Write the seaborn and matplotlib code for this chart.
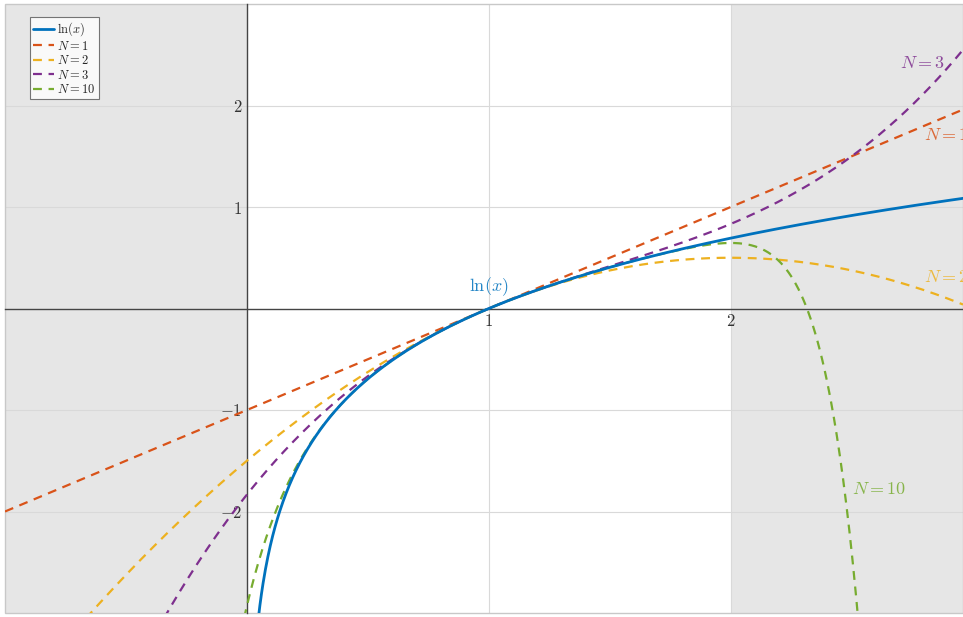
import numpy as np
import pandas as pd
import matplotlib
matplotlib.use("Agg")
import matplotlib.pyplot as plt
import seaborn as sns

# Taylor polynomials of ln(x) around x = 1
orders = [1, 2, 3, 10]
series_labels = ["$N = 1$", "$N = 2$", "$N = 3$", "$N = 10$"]
series_colors = ["#D95319", "#EDB120", "#7E2F8E", "#77AC30"]
ln_color = "#0072BD"
x_range = [-1.0, 2.96]
y_range = [-3.0, 3.0]
xtick_vals = [1, 2]
ytick_vals = [-2, -1, 1, 2]
# annotation text positions
annot_x = [2.80, 2.80, 2.70, 2.50]
annot_y = [1.71, 0.31, 2.42, -1.78]


def taylor_ln(x, n):
    k = np.arange(1, n + 1)
    return np.sum(((-1.0) ** (k + 1))[:, None] * (x[None, :] - 1) ** k[:, None] / k[:, None], axis=0)


sns.set_style("white")
plt.rcParams["font.family"] = ["DejaVu Serif"]
plt.rcParams["mathtext.fontset"] = "cm"

fig = plt.figure(figsize=(9.63, 6.17), dpi=100)
ax = fig.add_axes([5 / 963, 4 / 617, 958 / 963, 609 / 617])

# shaded regions outside the convergence interval
ax.axvspan(x_range[0], 0, color="#e6e6e6", zorder=0, lw=0)
ax.axvspan(2, x_range[1], color="#e6e6e6", zorder=0, lw=0)

xs = np.linspace(x_range[0], x_range[1], 1200)
xpos = xs[xs > 0.04]
df_ln = pd.DataFrame({"x": xpos, "y": np.log(xpos)})
sns.lineplot(data=df_ln, x="x", y="y", ax=ax, color=ln_color, lw=2,
             label=r"$\ln(x)$", zorder=5)

for n, lab, col in zip(orders, series_labels, series_colors):
    df = pd.DataFrame({"x": xs, "y": taylor_ln(xs, n)})
    df = df[(df.y > -4) & (df.y < 4)]
    sns.lineplot(data=df, x="x", y="y", ax=ax, color=col, lw=1.6,
                 label=lab, zorder=4, sort=False)
    ax.lines[-1].set_dashes([4, 3])

for lab, col, tx, ty in zip(series_labels, series_colors, annot_x, annot_y):
    ax.text(tx, ty, lab, color=col, fontsize=13, ha="left", va="center", alpha=0.85)
ax.text(1, 0.22, r"$\ln(x)$", color=ln_color, fontsize=13, ha="center", va="center", alpha=0.85)

ax.set_xlim(x_range)
ax.set_ylim(y_range)

# axes through origin
ax.spines["left"].set_position(("data", 0))
ax.spines["bottom"].set_position(("data", 0))
ax.spines["right"].set_visible(False)
ax.spines["top"].set_visible(False)
for s in ["left", "bottom"]:
    ax.spines[s].set_color("#444444")
    ax.spines[s].set_linewidth(1.0)

ax.set_xticks(xtick_vals)
ax.set_yticks(ytick_vals)
ax.set_xticklabels([f"${v}$" for v in xtick_vals])
ax.set_yticklabels([f"${v}$" for v in ytick_vals])
ax.tick_params(axis="both", direction="in", length=6, color="#444444",
               labelsize=12, labelcolor="#333333")
ax.grid(True, color="#d9d9d9", lw=0.8, zorder=1)
ax.set_axisbelow(True)
ax.set_xlabel("")
ax.set_ylabel("")

# outer frame
frame = plt.Rectangle((0, 0), 1, 1, transform=ax.transAxes, fill=False,
                      edgecolor="#c8c8c8", lw=1, clip_on=False)
ax.add_patch(frame)

leg = ax.legend(loc="upper left", bbox_to_anchor=(0.026, 0.978), fontsize=9,
                frameon=True, fancybox=False, handlelength=1.7, handletextpad=0.25,
                labelspacing=0.12, borderpad=0.25, borderaxespad=0)
leg.get_frame().set_edgecolor("#555555")
leg.get_frame().set_linewidth(0.8)
leg.set_zorder(10)

fig.savefig("out.png", dpi=100, facecolor="white")
